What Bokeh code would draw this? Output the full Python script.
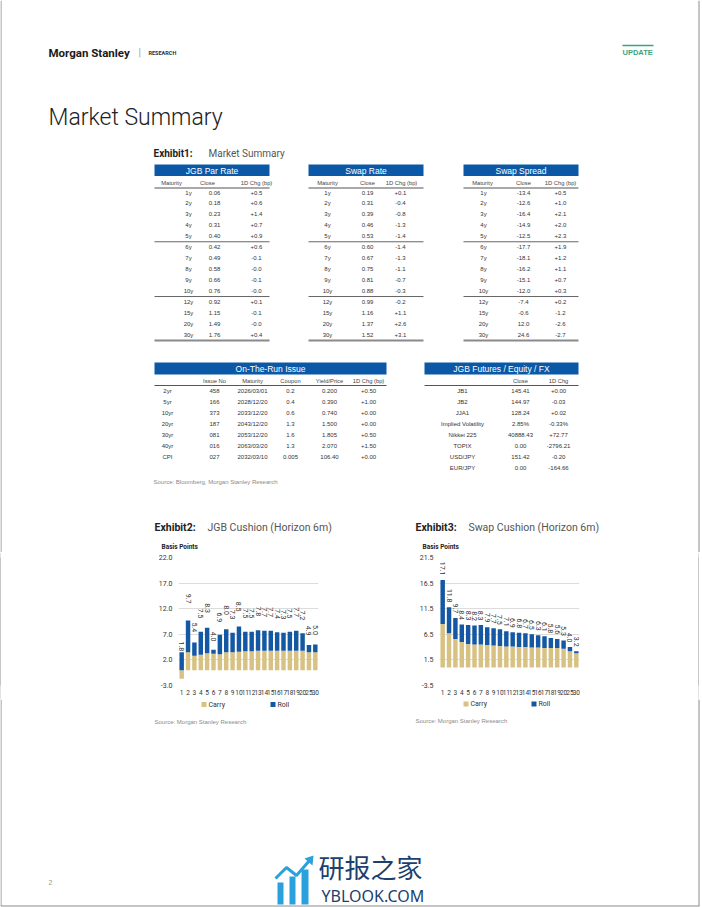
import math
from bokeh.plotting import figure
from bokeh.models import Range1d, FactorRange, FixedTicker, NumeralTickFormatter
from bokeh.layouts import column, row
from bokeh.core.properties import value
from bokeh.embed import file_html
from bokeh.resources import INLINE

# ---------------- data ----------------
maturities = ["1y", "2y", "3y", "4y", "5y", "6y", "7y", "8y", "9y", "10y", "12y", "15y", "20y", "30y"]
jgb_close = [0.06, 0.18, 0.23, 0.31, 0.40, 0.42, 0.49, 0.58, 0.66, 0.76, 0.92, 1.15, 1.49, 1.76]
jgb_chg = [0.5, 0.6, 1.4, 0.7, 0.9, 0.6, -0.1, -0.0, -0.1, -0.0, 0.1, -0.1, -0.0, 0.4]
swap_close = [0.19, 0.31, 0.39, 0.46, 0.53, 0.60, 0.67, 0.75, 0.81, 0.88, 0.99, 1.16, 1.37, 1.52]
swap_chg = [0.1, -0.4, -0.8, -1.3, -1.4, -1.4, -1.3, -1.1, -0.7, -0.3, -0.2, 1.1, 2.6, 3.1]
spread_close = [-13.4, -12.6, -16.4, -14.9, -12.5, -17.7, -18.1, -16.2, -15.1, -12.0, -7.4, -0.6, 12.0, 24.6]
spread_chg = [0.5, 1.0, 2.1, 2.0, 2.3, 1.9, 1.2, 1.1, 0.7, 0.3, 0.2, -1.2, -2.6, -2.7]

otr_names = ["2yr", "5yr", "10yr", "20yr", "30yr", "40yr", "CPI"]
otr_issue = ["458", "166", "373", "187", "081", "016", "027"]
otr_maturity = ["2026/03/01", "2028/12/20", "2033/12/20", "2043/12/20", "2053/12/20", "2063/03/20", "2032/03/10"]
otr_coupon = ["0.2", "0.4", "0.6", "1.3", "1.6", "1.3", "0.005"]
otr_yield = ["0.200", "0.390", "0.740", "1.500", "1.805", "2.070", "106.40"]
otr_chg = ["+0.50", "+1.00", "+0.00", "+0.00", "+0.50", "+1.50", "+0.00"]

fut_names = ["JB1", "JB2", "JJA1", "Implied Volatility", "Nikkei 225", "TOPIX", "USD/JPY", "EUR/JPY"]
fut_close = ["145.41", "144.97", "128.24", "2.85%", "40888.43", "0.00", "151.42", "0.00"]
fut_chg = ["+0.00", "-0.03", "+0.02", "-0.33%", "+72.77", "-2796.21", "-0.20", "-164.66"]

tenors = ["1", "2", "3", "4", "5", "6", "7", "8", "9", "10", "11", "12", "13", "14", "15",
          "16", "17", "18", "19", "20", "25", "30"]
jgb_total = [1.8, 9.7, 5.4, 7.5, 8.3, 4.0, 6.9, 8.0, 7.3, 8.5, 7.5, 7.5, 7.8, 7.7, 7.7, 7.4, 7.3, 7.5, 7.7, 7.2, 4.9, 5.0]
jgb_carry = [-1.7, 3.5, 2.8, 3.0, 3.3, 3.2, 3.1, 3.5, 3.5, 3.6, 3.7, 3.7, 3.8, 3.8, 3.8, 3.8, 3.8, 3.8, 3.8, 3.8, 3.5, 3.5]
jgb_roll = [3.5, 6.2, 2.6, 4.5, 5.0, 0.8, 3.8, 4.5, 3.8, 4.9, 3.8, 3.8, 4.0, 3.9, 3.9, 3.6, 3.5, 3.7, 3.9, 3.4, 1.4, 1.5]
jgb_ticks = [-3.0, 2.0, 7.0, 12.0, 17.0, 22.0]

swap_total = [17.1, 11.8, 9.7, 8.4, 8.3, 8.2, 8.3, 7.9, 7.7, 7.5, 7.1, 6.9, 6.8, 6.7, 6.5, 6.3, 6.1, 5.8, 5.6, 5.3, 4.0, 3.2]
swap_carry = [8.5, 6.7, 5.6, 5.0, 4.6, 4.5, 4.5, 4.4, 4.3, 4.2, 4.1, 4.1, 4.0, 4.0, 3.9, 3.9, 3.8, 3.8, 3.8, 3.7, 3.2, 2.8]
swap_roll = [8.6, 5.1, 4.1, 3.4, 3.7, 3.7, 3.8, 3.5, 3.4, 3.3, 3.0, 2.8, 2.8, 2.7, 2.6, 2.4, 2.3, 2.0, 1.8, 1.6, 0.8, 0.4]
swap_ticks = [-3.5, 1.5, 6.5, 11.5, 16.5, 21.5]

# ---------------- style ----------------
BLUE = "#0b59a6"
CARRY = "#d8c283"
ROLL = "#1457a3"
TXT = "#333333"
EDGE = "#8c8c8c"
TBL_FONT = "Liberation Sans"
CH_FONT = "Roboto"
PAGE_W = 702


def page_fig(w, h, x0, x1, ytop, ybot):
    p = figure(width=w, height=h, x_range=Range1d(x0, x1), y_range=Range1d(ybot, ytop),
               output_backend="svg", toolbar_location=None, min_border=0,
               x_axis_location=None, y_axis_location=None)
    p.grid.visible = False
    p.outline_line_color = None
    return p


def txt(p, xs, ys, ss, size, color=TXT, font=TBL_FONT, align="left", style="normal", baseline="middle"):
    if not isinstance(xs, list):
        xs, ys, ss = [xs], [ys], [ss]
    p.text(x=xs, y=ys, text=ss, text_font_size=f"{size}px", text_color=color,
           text_font=value(font), text_align=align, text_baseline=baseline,
           text_font_style=style)


def hline(p, x0, x1, y, color, w):
    p.segment(x0=[x0], x1=[x1], y0=[y], y1=[y], line_color=color, line_width=w)


def edges(p, y0, y1):
    p.segment(x0=[0.5, 698.5], x1=[0.5, 698.5], y0=[y0, y0], y1=[y1, y1], line_color=EDGE, line_width=1)


# ---------------- top band (page y 0..552) ----------------
top = page_fig(PAGE_W, 552, 0, PAGE_W, 0, 552)
edges(top, 0, 552)

txt(top, 48, 52, "Morgan Stanley", 11.5, color="#1a1a1a", font="Roboto", style="bold")
txt(top, 138, 52, "|", 10, color="#9a9a9a", font="Roboto")
txt(top, 148, 52.5, "RESEARCH", 5.5, color="#333333", font="Roboto", style="bold")
hline(top, 622, 653, 45, "#3aa57c", 1.5)
txt(top, 622, 51.5, "UPDATE", 7.5, color="#3aa57c", font="Liberation Sans", style="bold")
txt(top, 48, 117, "Market Summary", 23, color="#222222", font="Roboto Light")

txt(top, 153, 153, "Exhibit1:", 10, color="#222222", font=CH_FONT, style="bold")
txt(top, 208, 153, "Market Summary", 10, color="#555555", font=CH_FONT)

row_y = [192 + 10.95 * i for i in range(len(maturities))]


def rate_table(x0, title, head_xs, data_xs, cols):
    x1 = x0 + 115
    top.quad(left=[x0], right=[x1], top=[164], bottom=[175.5], fill_color=BLUE, line_color=None)
    txt(top, (x0 + x1) / 2, 170, title, 8.5, color="white", align="center")
    txt(top, head_xs, [182] * 3, ["Maturity", "Close", "1D Chg (bp)"], 5.8, color="#444444", align="center")
    hline(top, x0, x1, 187.5, "#555555", 1.2)
    for vals, cx in zip(cols, data_xs):
        txt(top, [cx] * len(vals), row_y, vals, 6, color=TXT, align="center")
    hline(top, x0, x1, (row_y[4] + row_y[5]) / 2, "#666666", 1)
    hline(top, x0, x1, (row_y[9] + row_y[10]) / 2, "#666666", 1)
    hline(top, x0, x1, 340, "#8a8a8a", 2)


rate_table(154, "JGB Par Rate", [171, 207, 256], [188, 214, 256],
           [maturities, [f"{v:.2f}" for v in jgb_close], [f"{v:+.1f}" for v in jgb_chg]])
rate_table(308, "Swap Rate", [327, 367, 401], [327, 367, 400],
           [maturities, [f"{v:.2f}" for v in swap_close], [f"{v:+.1f}" for v in swap_chg]])
rate_table(463, "Swap Spread", [482, 523, 560], [483, 523, 560],
           [maturities, [f"{v:.1f}" for v in spread_close], [f"{v:+.1f}" for v in spread_chg]])

# On-the-run
low_rows = [390 + 11 * i for i in range(8)]
top.quad(left=[154], right=[386], top=[362], bottom=[374], fill_color=BLUE, line_color=None)
txt(top, 270, 368, "On-The-Run Issue", 8.5, color="white", align="center")
otr_xs = [167, 214, 252, 290, 329, 368]
txt(top, otr_xs[1:], [380] * 5, ["Issue No", "Maturity", "Coupon", "Yield/Price", "1D Chg (bp)"], 5.8,
    color="#444444", align="center")
hline(top, 154, 386, 385, "#555555", 1.2)
for vals, cx in zip([otr_names, otr_issue, otr_maturity, otr_coupon, otr_yield, otr_chg], otr_xs):
    txt(top, [cx] * len(vals), low_rows[:len(vals)], vals, 6, align="center")

# futures
top.quad(left=[424], right=[578], top=[362], bottom=[374], fill_color=BLUE, line_color=None)
txt(top, 501, 368, "JGB Futures / Equity / FX", 8.5, color="white", align="center")
txt(top, [520, 558], [380, 380], ["Close", "1D Chg"], 5.8, color="#444444", align="center")
hline(top, 424, 578, 385, "#555555", 1.2)
for vals, cx in zip([fut_names, fut_close, fut_chg], [462, 520, 558]):
    txt(top, [cx] * len(vals), low_rows[:len(vals)], vals, 6, align="center")

txt(top, 153, 481, "Source: Bloomberg, Morgan Stanley Research", 6, color="#8a8a8a")

# exhibit titles
txt(top, 154, 527, "Exhibit2:", 10.5, color="#222222", font=CH_FONT, style="bold")
txt(top, 207, 527, "JGB Cushion (Horizon 6m)", 10.5, color="#555555", font=CH_FONT)
txt(top, 161, 546, "Basis Points", 6.5, color="#222222", font=CH_FONT, style="bold")
txt(top, 415, 527, "Exhibit3:", 10.5, color="#222222", font=CH_FONT, style="bold")
txt(top, 468, 527, "Swap Cushion (Horizon 6m)", 10.5, color="#555555", font=CH_FONT)
txt(top, 422, 546, "Basis Points", 6.5, color="#222222", font=CH_FONT, style="bold")


# ---------------- charts band (page y 552..699) ----------------
def strip(w, color):
    s = figure(width=w, height=147, output_backend="svg", toolbar_location=None, min_border=0,
               x_axis_location=None, y_axis_location=None,
               background_fill_color=color, border_fill_color=color)
    s.grid.visible = False
    s.outline_line_color = None
    return s


def cushion(total, carry, roll, ticks, width, left, right, gain, pad):
    p = figure(width=width, height=147, x_range=FactorRange(factors=tenors),
               y_range=Range1d(ticks[0], ticks[-1]), output_backend="svg", toolbar_location=None,
               min_border_left=left, min_border_right=right, min_border_top=5, min_border_bottom=14)
    p.outline_line_color = None
    p.xgrid.visible = False
    p.ygrid.ticker = FixedTicker(ticks=ticks)
    p.ygrid.grid_line_color = "#dcdcdc"
    p.yaxis.ticker = FixedTicker(ticks=ticks)
    p.yaxis.formatter = NumeralTickFormatter(format="0.0")
    for ax in (p.xaxis[0], p.yaxis[0]):
        ax.axis_line_color = None
        ax.major_tick_line_color = None
        ax.minor_tick_line_color = None
        ax.major_tick_out = 0
        ax.major_tick_in = 0
        ax.major_label_text_color = "#333333"
        ax.major_label_text_font = CH_FONT
    p.yaxis.major_label_text_font_size = "7px"
    p.yaxis.major_label_standoff = 6
    p.xaxis.major_label_text_font_size = "6.5px"
    p.xaxis.major_label_standoff = 4

    roll_bottom = [max(c, 0) for c in carry]
    roll_top = [b + r for b, r in zip(roll_bottom, roll)]
    p.vbar(x=tenors, bottom=0, top=carry, width=0.7, fill_color=CARRY, line_color=None)
    p.vbar(x=tenors, bottom=roll_bottom, top=roll_top, width=0.7, fill_color=ROLL, line_color=None)
    ly = [max(t + 0.2, gain * v + pad) for t, v in zip(roll_top, total)]
    p.text(x=tenors, y=ly, text=[f"{v:.1f}" for v in total], angle=-math.pi / 2,
           text_align="right", text_baseline="middle", text_font_size="7px",
           text_color="#333333", text_font=value(CH_FONT))
    return p


c1 = cushion(jgb_total, jgb_carry, jgb_roll, jgb_ticks, 399, 177, 82, 1.3, 0.4)
c2 = cushion(swap_total, swap_carry, swap_roll, swap_ticks, 298, 39, 119, 1.0, 0.9)
chart_row = row(strip(1, EDGE), c1, c2, strip(1, EDGE))

# ---------------- bottom band (page y 699..907) ----------------
bot = page_fig(PAGE_W, 208, 0, PAGE_W, 699, 907)
edges(bot, 699, 905.5)
hline(bot, 0, 699, 905.5, EDGE, 1)
bot.scatter(x=[203.5, 272.5], y=[704, 704], marker="square", size=5, fill_color=[CARRY, ROLL], line_color=None)
txt(bot, [208, 277], [704, 704], ["Carry", "Roll"], 7, font=CH_FONT)
bot.scatter(x=[465.5, 533.5], y=[703.5, 703.5], marker="square", size=5, fill_color=[CARRY, ROLL], line_color=None)
txt(bot, [470, 538], [703.5, 703.5], ["Carry", "Roll"], 7, font=CH_FONT)
txt(bot, 154, 721, "Source: Morgan Stanley Research", 6, color="#8a8a8a")
txt(bot, 415, 720, "Source: Morgan Stanley Research", 6, color="#8a8a8a")
txt(bot, 48, 882, "2", 7, color="#999999")

# watermark
bot.quad(left=[277, 289, 301], right=[283, 295, 308], top=[882, 876, 869], bottom=[904, 904, 904],
         fill_color="#2aa0dc", line_color=None)
bot.line(x=[275, 286, 296, 309], y=[878, 867, 875, 860], line_color="#2aa0dc", line_width=3)
bot.patch(x=[304, 313, 312], y=[858, 855, 865], fill_color="#2aa0dc", line_color=None)
txt(bot, 318, 866, "研报之家", 26, color="#1d3f6e", font="Noto Sans CJK SC")
txt(bot, 321, 895, "YBLOOK.COM", 16, color="#1d3f6e", font="Noto Sans")

layout = column(top, chart_row, bot)
open("out.html", "w").write(file_html(layout, INLINE))
